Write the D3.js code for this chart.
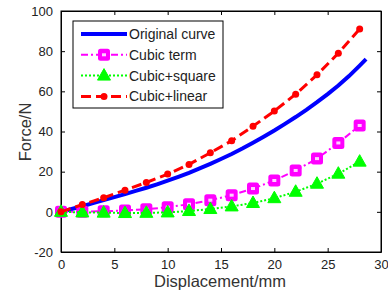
<html>
<head>
<meta charset="utf-8">
<script src="https://cdn.jsdelivr.net/npm/d3@7"></script>
<style>
  body { margin: 0; background: #fff; }
  text { font-family: "Liberation Sans", Arial, sans-serif; }
</style>
</head>
<body>
<svg width="388" height="298"></svg>
<script>
// data
var origX = [0, 1, 2, 3, 4, 5, 6, 7, 8, 9, 10, 11, 12, 13, 14, 15, 16, 17, 18, 19, 20, 21, 22, 23, 24, 25, 26, 27, 28, 28.6];
var origY = [0, 1.4, 2.8, 4.3, 5.8, 7.3, 8.8, 10.4, 12, 13.7, 15.5, 17.4, 19.4, 21.6, 23.9, 26.3, 28.8, 31.5, 34.4, 37.4, 40.5, 43.8, 47.2, 50.8, 54.6, 58.6, 62.9, 67.6, 72.8, 76];
var markX = [0, 2, 4, 6, 8, 10, 12, 14, 16, 18, 20, 22, 24, 26, 28];
var cubicTerm = [0, 0.1, 0.3, 0.7, 1.3, 2.3, 3.8, 5.8, 8.3, 11.6, 15.6, 20.6, 26.5, 34.3, 43];
var cubicSquare = [0, -0.3, -0.4, -0.6, -0.5, -0.3, 0.4, 1.4, 2.7, 4.4, 6.8, 10, 14, 19, 25];
var cubicLinear = [0, 3.6, 7, 10.8, 14.6, 18.8, 23.6, 29.4, 35.4, 42.6, 50.2, 58.6, 68.2, 79, 91];
var xTicks = [0, 5, 10, 15, 20, 25, 30];
var yTicks = [-20, 0, 20, 40, 60, 80, 100];
var legendNames = ["Original curve", "Cubic term", "Cubic+square", "Cubic+linear"];

var svg = d3.select("svg");
var pL = 61, pR = 381, pT = 11, pB = 252;

var x = d3.scaleLinear().domain([0, 30]).range([pL, pR]);
var y = d3.scaleLinear().domain([-20, 100]).range([pB, pT]);
var plain = function(d) { return String(d); };

// axes with inward ticks
svg.append("g").attr("transform", "translate(0," + pB + ")")
  .call(d3.axisBottom(x).tickValues(xTicks).tickFormat(plain).tickSizeInner(-4).tickSizeOuter(0).tickPadding(8));
svg.append("g").attr("transform", "translate(0," + pT + ")")
  .call(d3.axisTop(x).tickValues(xTicks).tickSizeInner(-4).tickSizeOuter(0).tickFormat(""));
svg.append("g").attr("transform", "translate(" + pL + ",0)")
  .call(d3.axisLeft(y).tickValues(yTicks).tickFormat(plain).tickSizeInner(-4).tickSizeOuter(0).tickPadding(8));
svg.append("g").attr("transform", "translate(" + pR + ",0)")
  .call(d3.axisRight(y).tickValues(yTicks).tickSizeInner(-4).tickSizeOuter(0).tickFormat(""));

svg.selectAll(".tick text").attr("font-size", 13).attr("fill", "#222")
  .style("font-family", "'Liberation Sans', Arial, sans-serif");
svg.selectAll(".domain").attr("stroke", "#000");
svg.selectAll(".tick line").attr("stroke", "#000");

svg.append("rect").attr("x", pL).attr("y", pT).attr("width", pR - pL).attr("height", pB - pT)
  .attr("fill", "none").attr("stroke", "#000").attr("stroke-width", 1);

// axis titles
svg.append("text").attr("x", 220).attr("y", 287).attr("text-anchor", "middle")
  .attr("font-size", 16.5).attr("fill", "#333").text("Displacement/mm");
svg.append("text").attr("transform", "translate(31,132) rotate(-90)")
  .attr("text-anchor", "middle").attr("font-size", 16.5).attr("fill", "#333").text("Force/N");

var line = d3.line().x(function(d) { return x(d[0]); }).y(function(d) { return y(d[1]); });

var series = [
  { vals: cubicTerm, color: "#ff00ff", dash: "7,3,2,3", width: 2, marker: "square" },
  { vals: cubicSquare, color: "#00ff00", dash: "2,2", width: 2, marker: "triangle" },
  { vals: cubicLinear, color: "#ff0000", dash: "10,5", width: 3, marker: "circle" }
];

// original curve
svg.append("path").datum(d3.zip(origX, origY)).attr("d", line)
  .attr("fill", "none").attr("stroke", "#0000ff").attr("stroke-width", 4);

function drawMarker(g, kind, color, cx, cy) {
  if (kind === "square") {
    g.append("rect").attr("x", cx - 6).attr("y", cy - 6).attr("width", 12).attr("height", 12)
      .attr("rx", 2.5).attr("fill", color);
    g.append("rect").attr("x", cx - 2).attr("y", cy - 1.5).attr("width", 4).attr("height", 3)
      .attr("fill", "#ffd0ff");
  } else if (kind === "triangle") {
    g.append("path").attr("d", "M" + cx + "," + (cy - 7) + "L" + (cx + 6.5) + "," + (cy + 4.5) + "L" + (cx - 6.5) + "," + (cy + 4.5) + "Z")
      .attr("fill", color).attr("stroke", color).attr("stroke-linejoin", "round");
  } else {
    g.append("circle").attr("cx", cx).attr("cy", cy).attr("r", 3.5).attr("fill", color);
  }
}

series.forEach(function(s) {
  var pts = d3.zip(markX, s.vals);
  svg.append("path").datum(pts).attr("d", line).attr("fill", "none")
    .attr("stroke", s.color).attr("stroke-width", s.width).attr("stroke-dasharray", s.dash);
  var g = svg.append("g");
  pts.forEach(function(p) { drawMarker(g, s.marker, s.color, x(p[0]), y(p[1])); });
});

// legend
var lg = svg.append("g");
lg.append("rect").attr("x", 73).attr("y", 21).attr("width", 150).attr("height", 87)
  .attr("fill", "#fff").attr("stroke", "#000");
var legendStyles = [{ color: "#0000ff", dash: null, width: 4, marker: null }].concat(series);
legendNames.forEach(function(name, i) {
  var ly = 34 + i * 20.8;
  var st = legendStyles[i];
  lg.append("line").attr("x1", 81).attr("x2", 127).attr("y1", ly).attr("y2", ly)
    .attr("stroke", st.color).attr("stroke-width", st.width).attr("stroke-dasharray", st.dash);
  if (st.marker) drawMarker(lg, st.marker, st.color, 104, ly);
  lg.append("text").attr("x", 129).attr("y", ly + 5).attr("font-size", 14).attr("fill", "#222").text(name);
});
</script>
</body>
</html>
